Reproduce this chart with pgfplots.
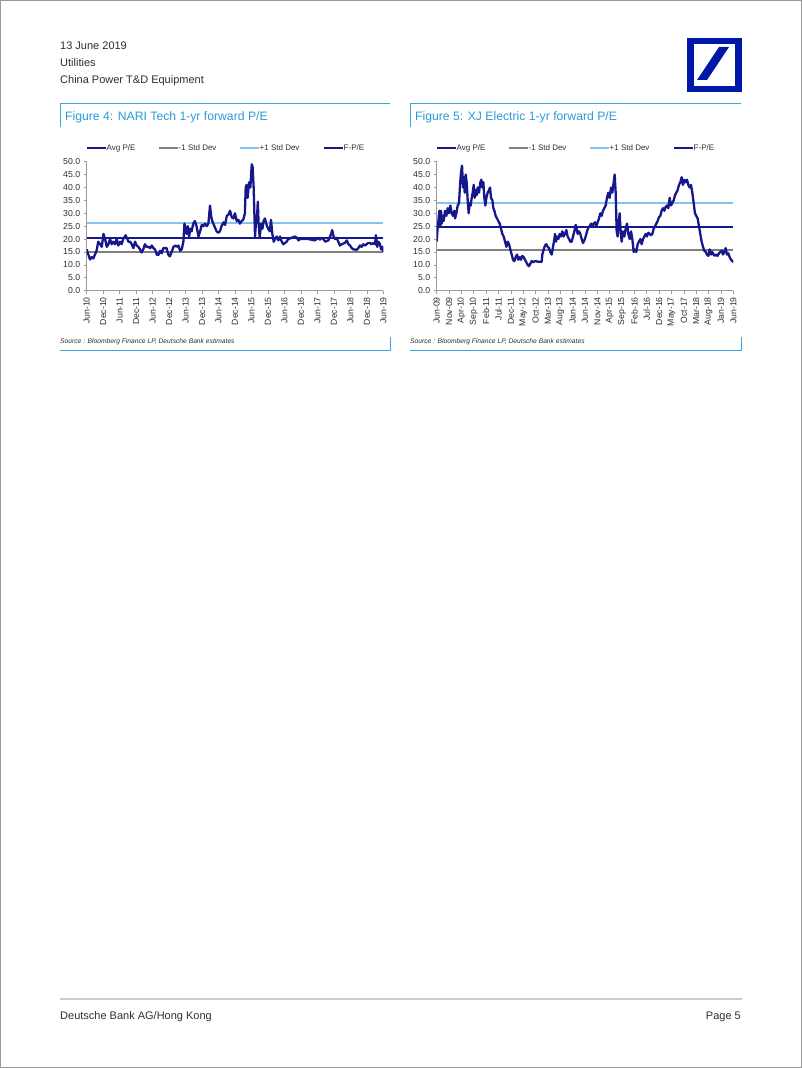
\documentclass[border=0pt]{standalone}
\usepackage{fontspec}
\setmainfont{Liberation Sans}
\usepackage{pgfplots}
\pgfplotsset{compat=1.18}
\usepackage{pgfplotstable}

\definecolor{dbnavy}{HTML}{14188C}
\definecolor{dbblue}{HTML}{0018A8}
\definecolor{stdgray}{HTML}{808080}
\definecolor{stdlight}{HTML}{86C4EE}
\definecolor{frameblue}{HTML}{3AA6DC}
\definecolor{titleblue}{HTML}{2A9BD6}
\definecolor{axisgray}{HTML}{9A9A9A}
\definecolor{txt}{HTML}{2E2E2E}

\newcommand\tickfont{\fontsize{8.7}{9}\selectfont}

% NARI Tech, months since Jun-10
\pgfplotstableread{
m pe
0 16
0.6 14
1.2 12.1
1.8 13
2.4 12.5
3.0 14
3.6 15.5
4.2 19
4.9 18
5.5 17
6.1 22
6.7 20
7.3 17
7.9 18
8.5 20
9.1 18
9.7 19
10.3 18
10.9 20
11.5 17.5
12.1 19
12.7 18
13.3 20
14.2 21.5
15.2 19
15.8 19
16.4 18
17.0 16.5
17.6 19
18.2 17.5
18.8 17
19.4 16
20.0 14.8
20.6 16
21.2 18
21.8 17
22.4 17
23.1 16.5
23.7 17.5
24.3 16.5
24.9 16
25.5 14
26.1 13.8
26.7 15.5
27.3 14.5
27.9 16.5
28.5 16.5
29.1 16.5
29.7 14
30.3 13.3
30.9 15
31.6 17
32.2 17.5
32.8 17
33.4 17.5
34.0 15.5
34.6 16
35.2 19
35.6 26
36.0 24
36.4 22
36.8 25
37.3 21
37.7 24
38.2 23
38.8 26
39.4 27
40.0 25
40.7 21
41.3 23
41.9 25.5
42.5 25
43.1 26
43.7 25
44.3 26
44.9 33
45.3 29
45.7 27
46.5 25
47.3 23
47.9 22.5
48.5 23
49.1 25
49.8 26.5
50.4 25.5
51.0 29
51.6 29.5
52.2 31
52.8 28.5
53.4 28
54.0 30
54.6 27
55.2 27.5
55.8 26
56.4 27
57.0 27.5
57.6 30
57.9 40
58.2 41
58.6 36
59.1 42
59.6 40
60.1 49
60.4 48
60.8 40
61.0 32
61.3 21
61.6 26
62.0 28
62.3 34.5
62.6 26
63.0 20.5
63.5 26
64.0 24
64.4 27
64.9 28
65.5 25.5
66.1 24
66.7 23
67.1 27.5
67.6 22
68.1 19
68.6 20
69.2 21
69.8 19.5
70.4 21
71.0 19
71.6 18
72.2 18.5
72.8 19
73.4 20
74.6 20.5
75.8 21
76.5 20.5
77.1 19.5
77.7 20
78.3 20
80.7 20
83.1 19.5
84.3 20.5
84.9 19.8
85.6 20.5
86.2 20
86.8 19
88.0 19.5
89.0 22
89.4 23.5
89.9 21
90.4 20
91.0 20.5
91.6 19
92.2 17.5
92.8 18
94.0 18.5
94.7 19.5
95.3 18
95.9 17.5
96.5 16.5
97.1 16
97.7 16
98.3 15.8
98.9 16.5
99.5 17.5
100.1 17
100.7 18
101.3 17.5
101.9 18
102.5 18.5
103.1 18.5
103.8 18
104.4 18.5
105.0 18
105.3 21.5
105.8 17
106.2 19
106.8 18
107.2 16
107.6 17
108 15
}\nari

% XJ Electric, months since Jun-09
\pgfplotstableread{
m pe
0 19
0.27 23
0.67 27
1.08 31
1.48 25
1.75 31
2.02 26
2.43 29
2.83 27
3.37 31
3.91 29
4.45 32
4.99 30
5.53 33
6.07 30
6.61 29
7.15 31
7.42 28
7.96 30
8.49 33
9.03 34
9.44 41
9.84 46
10.25 48.5
10.65 40
10.92 44
11.33 38
11.73 45
12.13 42
12.54 35
12.94 30
13.35 34
13.75 33
14.16 36
14.56 38
14.97 41
15.37 36
15.78 39
16.18 37
16.58 40
17.12 38
17.66 42
18.07 43
18.47 40
18.88 42
19.28 36
19.69 33
20.09 36
20.63 38
21.17 39
21.57 40
21.98 36
22.52 35
22.92 32
23.33 31
23.87 29
24.40 28
24.94 27
25.48 26
26.02 24
26.56 22
27.10 21
27.64 19
28.18 17
28.72 19
29.26 18
29.80 16
30.34 14
30.88 12
31.42 11.5
31.96 13
32.49 14
33.03 12
33.57 13
34.11 12
34.65 13.5
35.19 13
35.73 12
36.27 11
36.81 10
37.35 9.5
37.89 10.5
38.43 11.5
38.97 11
39.78 11.5
41.12 11.2
42.47 11.2
42.74 14
43.28 16
43.82 17.5
44.36 18
44.90 17
45.44 16.5
45.98 15
46.52 14
47.06 17
47.60 20
47.87 22
48.27 19
48.67 21
49.21 20
49.75 22
50.29 21
50.83 23
51.37 21
51.91 22
52.45 23.5
52.99 21
53.53 20
54.07 19
54.61 19
55.15 21
55.69 23
56.22 25.5
56.63 24
57.03 22
57.57 23
58.11 22
58.65 20
59.19 18.5
59.73 19.5
60.27 21
60.81 23
61.35 24.5
61.89 25
62.43 26
62.97 25
63.51 26
64.04 26.5
64.58 25
65.12 26.5
65.66 28
66.20 30
66.74 29
67.28 31
67.82 32
68.36 33
68.90 36
69.44 38
69.98 36
70.52 40
71.06 38
71.60 42
72.00 45
72.41 38
72.81 23
73.21 21
73.62 26
74.02 30
74.43 23
74.83 19
75.37 23
75.91 21
76.45 24
76.99 26
77.53 22
78.07 20
78.61 23
79.15 20
79.69 15
80.23 16
80.76 15
81.30 18
81.84 19
82.38 20
82.92 18
83.46 20
84.00 21
84.54 22
85.08 21
85.62 22.5
86.16 22
86.70 21.5
87.24 22
87.78 24
88.32 25
88.85 26
89.39 27
89.93 28.5
90.47 29
91.01 31
91.55 32
92.09 31
92.63 32.5
93.17 33
93.71 32
94.25 36
94.79 33
95.33 34
95.87 35
96.40 37
96.94 38
97.48 39
98.02 41
98.56 42
99.10 44
99.64 41
100.18 43
100.72 42
101.26 43
101.80 41
102.34 40
102.88 41
103.42 38
103.96 34
104.49 30
105.03 29
105.57 28
106.11 25
106.65 22
107.19 19
107.73 17
108.27 15.5
108.81 15
109.35 14
109.89 13.5
110.43 16
110.97 14
111.51 15
112.05 14
112.58 13.5
113.12 14
113.66 13.5
114.20 14.5
114.74 15
115.28 15.5
115.82 14
116.36 15
116.90 16.5
117.44 14
117.98 14.5
118.52 13
119.06 12
119.60 11.5
120 11
}\xj

\pgfplotsset{
  peaxis/.style={
    scale only axis, width=296.6pt, height=129pt, anchor=south west,
    ymin=0, ymax=50, ytick={0,5,...,50},
    axis lines=left,
    axis line style={-, draw=axisgray, line width=0.6pt},
    tick style={draw=axisgray, line width=0.6pt},
    tick align=outside, major tick length=3pt,
    yticklabel style={/pgf/number format/.cd, fixed, fixed zerofill, precision=1,
      /tikz/.cd, font=\tickfont, text=txt},
    /pgf/number format/assume math mode=true,
    xticklabel style={rotate=90, anchor=east, font=\tickfont, text=txt},
  },
  fpe/.style={dbnavy, line width=2.3pt, line join=round, no markers},
  avgl/.style={dbnavy, line width=1.9pt, no markers},
  lowl/.style={stdgray, line width=1.9pt, no markers},
  highl/.style={stdlight, line width=1.7pt, no markers},
}

\newcommand\legitem[3]{%
  \draw[#1] (#2,920.3) -- ++(19,0);
  \node[anchor=base west, inner sep=0pt, font=\fontsize{8}{9}\selectfont, text=txt] at (#2+19.5,917.4) {#3};}

\begin{document}
\begin{tikzpicture}[x=1pt,y=1pt]
\useasboundingbox (0,0) rectangle (802,1068);
\draw[gray!80, line width=1pt] (0.5,0.5) rectangle (801.5,1067.5);

% header
\begin{scope}[every node/.style={anchor=base west, inner sep=0pt, font=\fontsize{11}{12}\selectfont, text=txt}]
\node at (60,1018) {13 June 2019};
\node at (60,1001) {Utilities};
\node at (60,984) {China Power T\&D Equipment};
\end{scope}

% logo
\fill[dbblue] (686.5,976) rectangle (741.5,1030);
\fill[white] (693.5,982) rectangle (734.5,1024);
\fill[dbblue] (697,988) -- (707,988) -- (729,1021) -- (719,1021) -- cycle;

% figure frames
\foreach \xa/\xb in {60/390, 410/741}{
  \draw[frameblue, line width=1pt] (\xa,941) -- (\xa,964) -- (\xb,964);
  \draw[frameblue, line width=1pt] (\xa,717) -- (\xb,717) -- (\xb,731);
}
\node[anchor=base west, inner sep=0pt, font=\fontsize{12.2}{13}\selectfont, text=titleblue] at (65,947) {Figure 4: NARI Tech 1-yr forward P/E};
\node[anchor=base west, inner sep=0pt, font=\fontsize{12.2}{13}\selectfont, text=titleblue] at (415,947) {Figure 5: XJ Electric 1-yr forward P/E};
\node[anchor=base west, inner sep=0pt, font=\fontsize{6.7}{7}\selectfont\itshape, text=txt] at (60,724) {Source : Bloomberg Finance LP, Deutsche Bank estimates};
\node[anchor=base west, inner sep=0pt, font=\fontsize{6.7}{7}\selectfont\itshape, text=txt] at (410,724) {Source : Bloomberg Finance LP, Deutsche Bank estimates};

% legends
\legitem{dbnavy, line width=2.2pt}{87}{Avg P/E}
\legitem{stdgray, line width=2.2pt}{159}{-1 Std Dev}
\legitem{stdlight, line width=2.2pt}{240}{+1 Std Dev}
\legitem{dbnavy, line width=2.2pt}{324}{F-P/E}
\legitem{dbnavy, line width=2.2pt}{437}{Avg P/E}
\legitem{stdgray, line width=2.2pt}{509}{-1 Std Dev}
\legitem{stdlight, line width=2.2pt}{590}{+1 Std Dev}
\legitem{dbnavy, line width=2.2pt}{674}{F-P/E}

% Figure 4
\begin{axis}[peaxis, at={(86.7pt,777.3pt)},
  xmin=0, xmax=108, xtick={0,6,...,108},
  xticklabels={Jun-10,Dec-10,Jun-11,Dec-11,Jun-12,Dec-12,Jun-13,Dec-13,Jun-14,Dec-14,Jun-15,Dec-15,Jun-16,Dec-16,Jun-17,Dec-17,Jun-18,Dec-18,Jun-19}]
\addplot[avgl] coordinates {(0,20.5) (108,20.5)};
\addplot[lowl] coordinates {(0,15.1) (108,15.1)};
\addplot[highl] coordinates {(0,26.2) (108,26.2)};
\addplot[fpe] table[x=m, y=pe] {\nari};
\end{axis}

% Figure 5
\begin{axis}[peaxis, at={(436.7pt,777.3pt)},
  xmin=0, xmax=120, xtick={0,5,...,120},
  xticklabels={Jun-09,Nov-09,Apr-10,Sep-10,Feb-11,Jul-11,Dec-11,May-12,Oct-12,Mar-13,Aug-13,Jan-14,Jun-14,Nov-14,Apr-15,Sep-15,Feb-16,Jul-16,Dec-16,May-17,Oct-17,Mar-18,Aug-18,Jan-19,Jun-19}]
\addplot[avgl] coordinates {(0,24.8) (120,24.8)};
\addplot[lowl] coordinates {(0,15.8) (120,15.8)};
\addplot[highl] coordinates {(0,33.9) (120,33.9)};
\addplot[fpe] table[x=m, y=pe] {\xj};
\end{axis}

% footer
\draw[gray!40, line width=1.6pt] (60,1068-999) -- (742,1068-999);
\node[anchor=base west, inner sep=0pt, font=\fontsize{11}{12}\selectfont, text=txt] at (60,1068-1019.5) {Deutsche Bank AG/Hong Kong};
\node[anchor=base east, inner sep=0pt, font=\fontsize{11}{12}\selectfont, text=txt] at (741,1068-1019.5) {Page 5};
\end{tikzpicture}
\end{document}
